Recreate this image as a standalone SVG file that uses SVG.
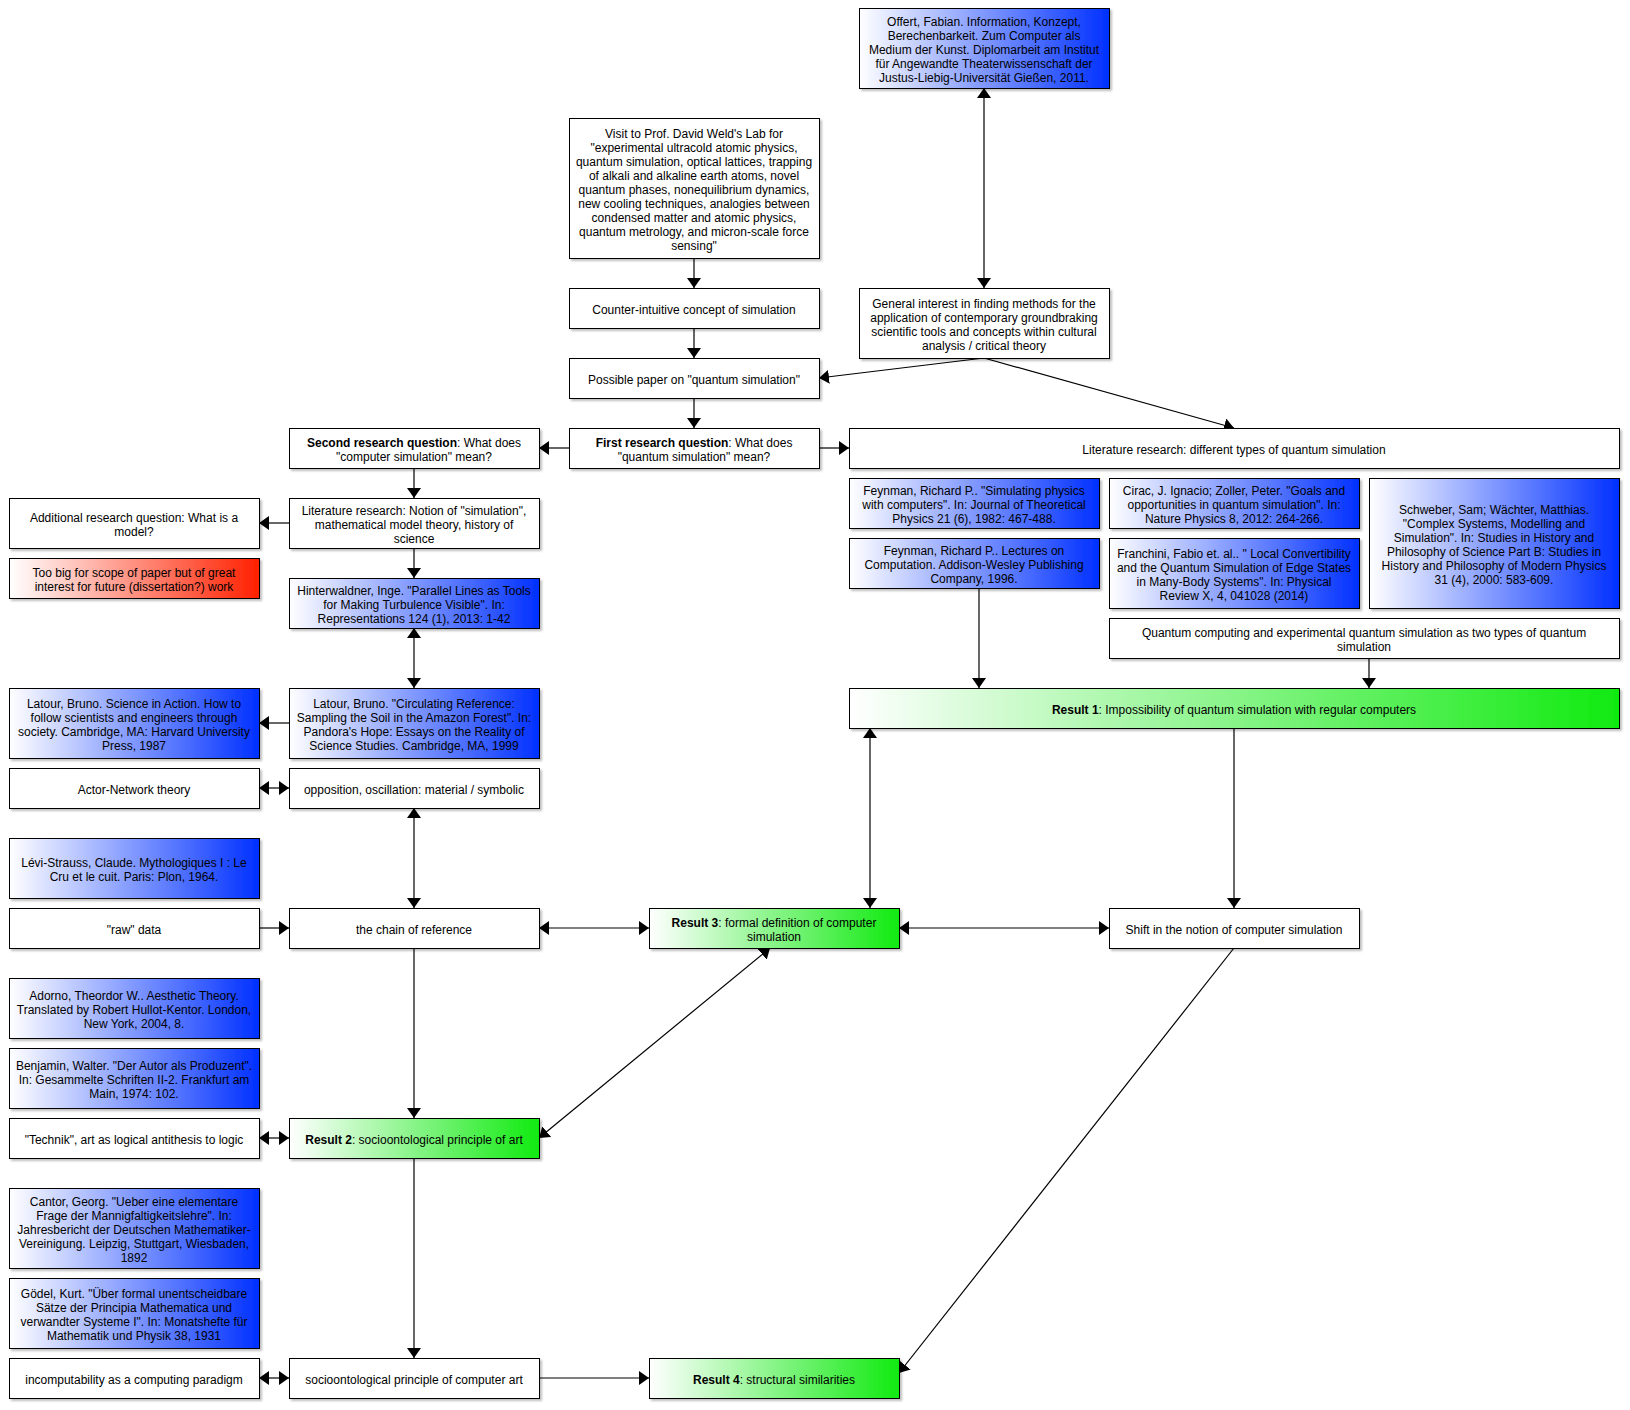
<svg xmlns="http://www.w3.org/2000/svg" width="1630" height="1410" viewBox="0 0 1630 1410">
<defs>
<linearGradient id="gB" x1="0" y1="0" x2="1" y2="0"><stop offset="0" stop-color="#ffffff"/><stop offset="1" stop-color="#0030ff"/></linearGradient>
<linearGradient id="gG" x1="0" y1="0" x2="1" y2="0"><stop offset="0" stop-color="#ffffff"/><stop offset="1" stop-color="#10ea10"/></linearGradient>
<linearGradient id="gR" x1="0" y1="0" x2="1" y2="0"><stop offset="0" stop-color="#ffffff"/><stop offset="1" stop-color="#ff2000"/></linearGradient>
<filter id="sh" x="-5%" y="-10%" width="115%" height="140%"><feDropShadow dx="2" dy="2" stdDeviation="1" flood-color="#000" flood-opacity="0.25"/></filter>
<marker id="arr" viewBox="0 0 10 14" refX="10" refY="7" markerWidth="10" markerHeight="14" markerUnits="userSpaceOnUse" orient="auto-start-reverse"><path d="M0,0 L10,7 L0,14 z" fill="#000"/></marker>
</defs>
<style>
rect{stroke:#000;stroke-width:1;filter:url(#sh)}
.w{fill:#fff}.b{fill:url(#gB)}.g{fill:url(#gG)}.r{fill:url(#gR)}
text{font-family:"Liberation Sans",Arial,Helvetica,sans-serif;font-size:12px;text-anchor:middle;fill:#000}
.bd{font-weight:bold}
#edges path{fill:none;stroke:#000;stroke-width:1.2}
.e{marker-end:url(#arr)}
.bi{marker-start:url(#arr);marker-end:url(#arr)}
</style>
<rect x="0" y="0" width="1630" height="1410" fill="#fff" style="stroke:none;filter:none"/>

<g id="edges">
<path class="bi" d="M984,88 L984,288"/>
<path class="e" d="M694,258 L694,288"/>
<path class="e" d="M694,328 L694,358"/>
<path class="e" d="M984,358 L819,378"/>
<path class="e" d="M984,358 L1234,428"/>
<path class="e" d="M694,398 L694,428"/>
<path class="e" d="M569,448 L539,448"/>
<path class="e" d="M819,448 L849,448"/>
<path class="e" d="M414,468 L414,498"/>
<path class="e" d="M289,523 L259,523"/>
<path class="e" d="M414,548 L414,578"/>
<path class="bi" d="M414,628 L414,688"/>
<path class="e" d="M289,723 L259,723"/>
<path class="bi" d="M259,788 L289,788"/>
<path class="bi" d="M414,808 L414,908"/>
<path class="e" d="M259,928 L289,928"/>
<path class="bi" d="M539,928 L649,928"/>
<path class="bi" d="M899,928 L1109,928"/>
<path class="bi" d="M870,728 L870,908"/>
<path class="e" d="M1234,728 L1234,908"/>
<path class="e" d="M979,588 L979,688"/>
<path class="e" d="M1369,658 L1369,688"/>
<path class="e" d="M414,948 L414,1118"/>
<path class="bi" d="M770,948 L539,1138"/>
<path class="bi" d="M259,1138 L289,1138"/>
<path class="e" d="M414,1158 L414,1358"/>
<path class="bi" d="M259,1378 L289,1378"/>
<path class="e" d="M539,1378 L649,1378"/>
<path class="e" d="M1234,948 L899,1373"/>
</g>

<g id="offert"><rect class="b" x="859.5" y="8.5" width="250" height="80"/>
<text><tspan x="984" y="26">Offert, Fabian. Information, Konzept,</tspan><tspan x="984" y="40">Berechenbarkeit. Zum Computer als</tspan><tspan x="984" y="54">Medium der Kunst. Diplomarbeit am Institut</tspan><tspan x="984" y="68">für Angewandte Theaterwissenschaft der</tspan><tspan x="984" y="82">Justus-Liebig-Universität Gießen, 2011.</tspan></text></g>

<g id="visit"><rect class="w" x="569.5" y="118.5" width="250" height="140"/>
<text><tspan x="694" y="138">Visit to Prof. David Weld's Lab for</tspan><tspan x="694" y="152">"experimental ultracold atomic physics,</tspan><tspan x="694" y="166">quantum simulation, optical lattices, trapping</tspan><tspan x="694" y="180">of alkali and alkaline earth atoms, novel</tspan><tspan x="694" y="194">quantum phases, nonequilibrium dynamics,</tspan><tspan x="694" y="208">new cooling techniques, analogies between</tspan><tspan x="694" y="222">condensed matter and atomic physics,</tspan><tspan x="694" y="236">quantum metrology, and micron-scale force</tspan><tspan x="694" y="250">sensing"</tspan></text></g>

<g id="counter"><rect class="w" x="569.5" y="288.5" width="250" height="40"/>
<text x="694" y="314">Counter-intuitive concept of simulation</text></g>

<g id="general"><rect class="w" x="859.5" y="288.5" width="250" height="70"/>
<text><tspan x="984" y="308">General interest in finding methods for the</tspan><tspan x="984" y="322">application of contemporary groundbraking</tspan><tspan x="984" y="336">scientific tools and concepts within cultural</tspan><tspan x="984" y="350">analysis / critical theory</tspan></text></g>

<g id="possible"><rect class="w" x="569.5" y="358.5" width="250" height="40"/>
<text x="694" y="384">Possible paper on "quantum simulation"</text></g>

<g id="second-rq"><rect class="w" x="289.5" y="428.5" width="250" height="40"/>
<text><tspan x="414" y="447"><tspan class="bd">Second research question</tspan>: What does</tspan><tspan x="414" y="461">"computer simulation" mean?</tspan></text></g>

<g id="first-rq"><rect class="w" x="569.5" y="428.5" width="250" height="40"/>
<text><tspan x="694" y="447"><tspan class="bd">First research question</tspan>: What does</tspan><tspan x="694" y="461">"quantum simulation" mean?</tspan></text></g>

<g id="lit-types"><rect class="w" x="849.5" y="428.5" width="770" height="40"/>
<text x="1234" y="454">Literature research: different types of quantum simulation</text></g>

<g id="feynman1"><rect class="b" x="849.5" y="478.5" width="250" height="50"/>
<text><tspan x="974" y="495">Feynman, Richard P.. "Simulating physics</tspan><tspan x="974" y="509">with computers". In: Journal of Theoretical</tspan><tspan x="974" y="523">Physics 21 (6), 1982: 467-488.</tspan></text></g>

<g id="cirac"><rect class="b" x="1109.5" y="478.5" width="250" height="50"/>
<text><tspan x="1234" y="495">Cirac, J. Ignacio; Zoller, Peter. "Goals and</tspan><tspan x="1234" y="509">opportunities in quantum simulation". In:</tspan><tspan x="1234" y="523">Nature Physics 8, 2012: 264-266.</tspan></text></g>

<g id="schweber"><rect class="b" x="1369.5" y="478.5" width="250" height="130"/>
<text><tspan x="1494" y="514">Schweber, Sam; Wächter, Matthias.</tspan><tspan x="1494" y="528">"Complex Systems, Modelling and</tspan><tspan x="1494" y="542">Simulation". In: Studies in History and</tspan><tspan x="1494" y="556">Philosophy of Science Part B: Studies in</tspan><tspan x="1494" y="570">History and Philosophy of Modern Physics</tspan><tspan x="1494" y="584">31 (4), 2000: 583-609.</tspan></text></g>

<g id="additional-rq"><rect class="w" x="9.5" y="498.5" width="250" height="50"/>
<text><tspan x="134" y="522">Additional research question: What is a</tspan><tspan x="134" y="536">model?</tspan></text></g>

<g id="lit-notion"><rect class="w" x="289.5" y="498.5" width="250" height="50"/>
<text><tspan x="414" y="515">Literature research: Notion of "simulation",</tspan><tspan x="414" y="529">mathematical model theory, history of</tspan><tspan x="414" y="543">science</tspan></text></g>

<g id="feynman2"><rect class="b" x="849.5" y="538.5" width="250" height="50"/>
<text><tspan x="974" y="555">Feynman, Richard P.. Lectures on</tspan><tspan x="974" y="569">Computation. Addison-Wesley Publishing</tspan><tspan x="974" y="583">Company, 1996.</tspan></text></g>

<g id="franchini"><rect class="b" x="1109.5" y="538.5" width="250" height="70"/>
<text><tspan x="1234" y="558">Franchini, Fabio et. al.. " Local Convertibility</tspan><tspan x="1234" y="572">and the Quantum Simulation of Edge States</tspan><tspan x="1234" y="586">in Many-Body Systems". In: Physical</tspan><tspan x="1234" y="600">Review X, 4, 041028 (2014)</tspan></text></g>

<g id="too-big"><rect class="r" x="9.5" y="558.5" width="250" height="40"/>
<text><tspan x="134" y="577">Too big for scope of paper but of great</tspan><tspan x="134" y="591">interest for future (dissertation?) work</tspan></text></g>

<g id="hinterwaldner"><rect class="b" x="289.5" y="578.5" width="250" height="50"/>
<text><tspan x="414" y="595">Hinterwaldner, Inge. "Parallel Lines as Tools</tspan><tspan x="414" y="609">for Making Turbulence Visible". In:</tspan><tspan x="414" y="623">Representations 124 (1), 2013: 1-42</tspan></text></g>

<g id="quantum-computing"><rect class="w" x="1109.5" y="618.5" width="510" height="40"/>
<text><tspan x="1364" y="637">Quantum computing and experimental quantum simulation as two types of quantum</tspan><tspan x="1364" y="651">simulation</tspan></text></g>

<g id="result1"><rect class="g" x="849.5" y="688.5" width="770" height="40"/>
<text x="1234" y="714"><tspan class="bd">Result 1</tspan>: Impossibility of quantum simulation with regular computers</text></g>

<g id="latour-science"><rect class="b" x="9.5" y="688.5" width="250" height="70"/>
<text><tspan x="134" y="708">Latour, Bruno. Science in Action. How to</tspan><tspan x="134" y="722">follow scientists and engineers through</tspan><tspan x="134" y="736">society. Cambridge, MA: Harvard University</tspan><tspan x="134" y="750">Press, 1987</tspan></text></g>

<g id="latour-circulating"><rect class="b" x="289.5" y="688.5" width="250" height="70"/>
<text><tspan x="414" y="708">Latour, Bruno. "Circulating Reference:</tspan><tspan x="414" y="722">Sampling the Soil in the Amazon Forest". In:</tspan><tspan x="414" y="736">Pandora's Hope: Essays on the Reality of</tspan><tspan x="414" y="750">Science Studies. Cambridge, MA, 1999</tspan></text></g>

<g id="actor-network"><rect class="w" x="9.5" y="768.5" width="250" height="40"/>
<text x="134" y="794">Actor-Network theory</text></g>

<g id="opposition"><rect class="w" x="289.5" y="768.5" width="250" height="40"/>
<text x="414" y="794">opposition, oscillation: material / symbolic</text></g>

<g id="levi-strauss"><rect class="b" x="9.5" y="838.5" width="250" height="60"/>
<text><tspan x="134" y="867">Lévi-Strauss, Claude. Mythologiques I : Le</tspan><tspan x="134" y="881">Cru et le cuit. Paris: Plon, 1964.</tspan></text></g>

<g id="raw-data"><rect class="w" x="9.5" y="908.5" width="250" height="40"/>
<text x="134" y="934">"raw" data</text></g>

<g id="chain"><rect class="w" x="289.5" y="908.5" width="250" height="40"/>
<text x="414" y="934">the chain of reference</text></g>

<g id="result3"><rect class="g" x="649.5" y="908.5" width="250" height="40"/>
<text><tspan x="774" y="927"><tspan class="bd">Result 3</tspan>: formal definition of computer</tspan><tspan x="774" y="941">simulation</tspan></text></g>

<g id="shift"><rect class="w" x="1109.5" y="908.5" width="250" height="40"/>
<text x="1234" y="934">Shift in the notion of computer simulation</text></g>

<g id="adorno"><rect class="b" x="9.5" y="978.5" width="250" height="60"/>
<text><tspan x="134" y="1000">Adorno, Theordor W.. Aesthetic Theory.</tspan><tspan x="134" y="1014">Translated by Robert Hullot-Kentor. London,</tspan><tspan x="134" y="1028">New York, 2004, 8.</tspan></text></g>

<g id="benjamin"><rect class="b" x="9.5" y="1048.5" width="250" height="60"/>
<text><tspan x="134" y="1070">Benjamin, Walter. "Der Autor als Produzent".</tspan><tspan x="134" y="1084">In: Gesammelte Schriften II-2. Frankfurt am</tspan><tspan x="134" y="1098">Main, 1974: 102.</tspan></text></g>

<g id="technik"><rect class="w" x="9.5" y="1118.5" width="250" height="40"/>
<text x="134" y="1144">"Technik", art as logical antithesis to logic</text></g>

<g id="result2"><rect class="g" x="289.5" y="1118.5" width="250" height="40"/>
<text x="414" y="1144"><tspan class="bd">Result 2</tspan>: socioontological principle of art</text></g>

<g id="cantor"><rect class="b" x="9.5" y="1188.5" width="250" height="80"/>
<text><tspan x="134" y="1206">Cantor, Georg. "Ueber eine elementare</tspan><tspan x="134" y="1220">Frage der Mannigfaltigkeitslehre". In:</tspan><tspan x="134" y="1234">Jahresbericht der Deutschen Mathematiker-</tspan><tspan x="134" y="1248">Vereinigung. Leipzig, Stuttgart, Wiesbaden,</tspan><tspan x="134" y="1262">1892</tspan></text></g>

<g id="goedel"><rect class="b" x="9.5" y="1278.5" width="250" height="70"/>
<text><tspan x="134" y="1298">Gödel, Kurt. "Über formal unentscheidbare</tspan><tspan x="134" y="1312">Sätze der Principia Mathematica und</tspan><tspan x="134" y="1326">verwandter Systeme I". In: Monatshefte für</tspan><tspan x="134" y="1340">Mathematik und Physik 38, 1931</tspan></text></g>

<g id="incomputability"><rect class="w" x="9.5" y="1358.5" width="250" height="40"/>
<text x="134" y="1384">incomputability as a computing paradigm</text></g>

<g id="computer-art"><rect class="w" x="289.5" y="1358.5" width="250" height="40"/>
<text x="414" y="1384">socioontological principle of computer art</text></g>

<g id="result4"><rect class="g" x="649.5" y="1358.5" width="250" height="40"/>
<text x="774" y="1384"><tspan class="bd">Result 4</tspan>: structural similarities</text></g>
</svg>
